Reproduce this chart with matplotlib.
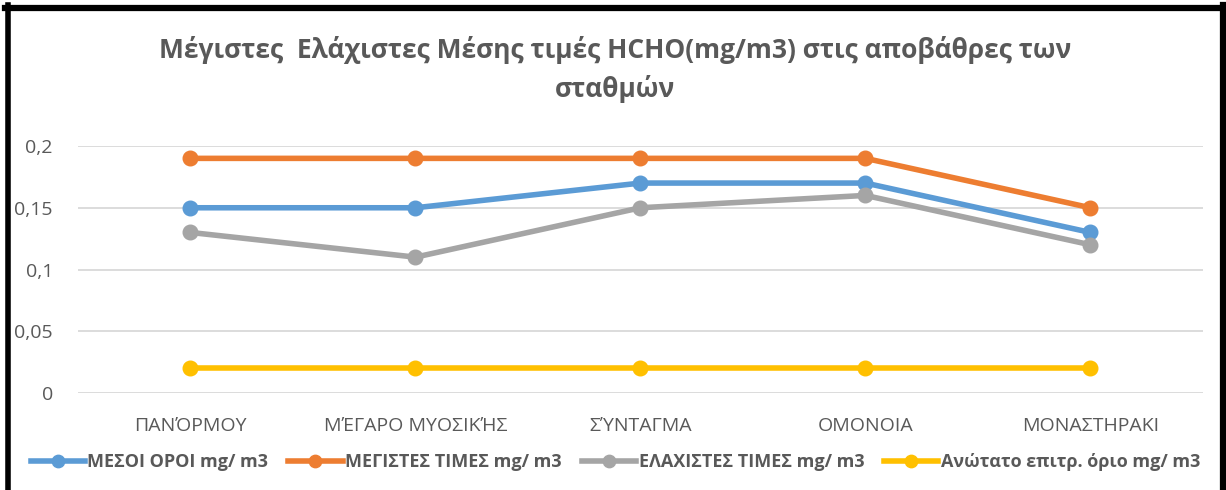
import matplotlib
matplotlib.use("Agg")
import matplotlib.pyplot as plt
from matplotlib.lines import Line2D
from matplotlib.ticker import FuncFormatter

plt.rcParams['font.family'] = ['Open Sans', 'DejaVu Sans']

stations = ["ΠΑΝΌΡΜΟΥ", "ΜΈΓΑΡΟ ΜΥΟΣΙΚΉΣ", "ΣΎΝΤΑΓΜΑ", "ΟΜΟΝΟΙΑ", "ΜΟΝΑΣΤΗΡΑΚΙ"]
mean_vals = [0.15, 0.15, 0.17, 0.17, 0.13]
max_vals = [0.19, 0.19, 0.19, 0.19, 0.15]
min_vals = [0.13, 0.11, 0.15, 0.16, 0.12]
limit_vals = [0.02, 0.02, 0.02, 0.02, 0.02]

series_names = ["ΜΕΣΟΙ ΟΡΟΙ mg/ m3", "ΜΕΓΙΣΤΕΣ ΤΙΜΕΣ mg/ m3",
                "ΕΛΑΧΙΣΤΕΣ ΤΙΜΕΣ mg/ m3", "Ανώτατο επιτρ. όριο mg/ m3"]
colors = ["#5B9BD5", "#ED7D31", "#A5A5A5", "#FFC000"]

TXT = "#595959"

fig = plt.figure(figsize=(12.26, 4.9), dpi=100)
ax = fig.add_axes([0.0636, 0.198, 0.9176, 0.504])

x = range(len(stations))
for vals, name, c in zip([mean_vals, max_vals, min_vals, limit_vals], series_names, colors):
    ax.plot(x, vals, color=c, linewidth=4, marker="o", markersize=10.5,
            label=name, clip_on=False, zorder=3)

ax.set_xlim(-0.5, len(stations) - 0.5)
ax.set_ylim(0, 0.2)
ax.set_yticks([0, 0.05, 0.1, 0.15, 0.2])
ax.yaxis.set_major_formatter(FuncFormatter(lambda v, p: f"{v:g}".replace(".", ",")))
ax.set_xticks(list(x))
ax.set_xticklabels(stations)
ax.tick_params(axis="both", length=0, labelsize=14, labelcolor=TXT)
ax.tick_params(axis="y", pad=18)
ax.tick_params(axis="x", pad=17)
ax.grid(axis="y", color="#D9D9D9", linewidth=1.3)
for s in ax.spines.values():
    s.set_visible(False)

fig.text(0.502, 0.897, "Μέγιστες  Ελάχιστες Μέσης τιμές HCHO(mg/m3) στις αποβάθρες των",
         ha="center", va="center", fontsize=19, fontweight="bold", color=TXT)
fig.text(0.502, 0.818, "σταθμών", ha="center", va="center",
         fontsize=19, fontweight="bold", color=TXT)

leg = fig.legend(loc="center", bbox_to_anchor=(0.502, 0.057), ncol=4, frameon=False,
                 handlelength=3.0, columnspacing=1.1, handletextpad=0.15,
                 markerscale=0.85, prop={"weight": "bold", "size": 13})
for t in leg.get_texts():
    t.set_color(TXT)

# black frame round the chart
fw, fh = 1226, 490
fig.add_artist(Line2D([7.5 / fw, 7.5 / fw], [0, 1 - 5 / fh], color="black", linewidth=4))
fig.add_artist(Line2D([5 / fw, 1223 / fw], [1 - 8 / fh, 1 - 8 / fh], color="black", linewidth=4.5))
fig.add_artist(Line2D([1222.5 / fw, 1222.5 / fw], [0, 1 - 5 / fh], color="black", linewidth=4.5))

fig.savefig("out.png", dpi=100)
